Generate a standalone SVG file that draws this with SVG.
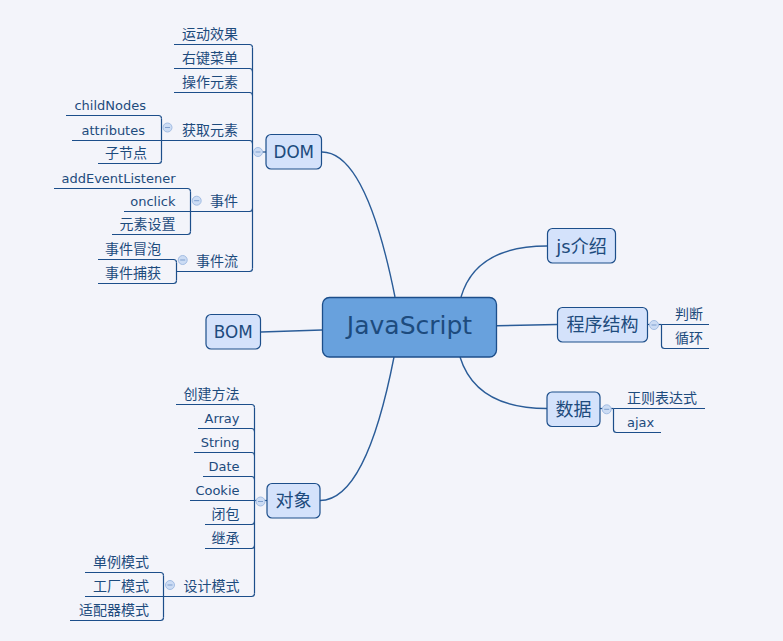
<svg xmlns="http://www.w3.org/2000/svg" width="783" height="641" viewBox="0 0 783 641">
<style>
.bg{fill:#f3f4fa}
.ln{fill:none;stroke:#1c4e8a;stroke-width:1.2}
.mc{fill:none;stroke:#2a5c98;stroke-width:1.4}
.box{fill:#d4e2fb;stroke:#1c4e8a;stroke-width:1.2}
.root{fill:#68a1dd;stroke:#1c4e8a;stroke-width:1.3}
text{font-family:"DejaVu Sans","Noto Sans CJK SC",sans-serif;fill:#1d4b7d}
.s{font-size:13px}
.c{font-size:14px}
.e{text-anchor:end}
.m{text-anchor:middle}
.n{font-size:16.8px}
.nc{font-size:18px}
.cb{fill:#ccdcf4;stroke:#a3bde3;stroke-width:1}
.cm{stroke:#7f9fce;stroke-width:1}
</style>
<defs>
<g id="col"><circle class="cb" r="4.5"/><line class="cm" x1="-2.5" y1="0" x2="2.5" y2="0"/></g>
</defs>
<rect class="bg" x="0" y="0" width="783" height="641"/>
<g id="connectors">
<path class="mc" d="M395,297 Q366,152 322,152"/>
<path class="mc" d="M394,357 Q366,500.5 320,500.5"/>
<path class="mc" d="M461,297 Q476,246 547,246"/>
<path class="mc" d="M460,357 Q476,408.5 547,408.5"/>
<path class="mc" d="M497,325.7 L557,324.5"/>
<path class="mc" d="M322,330 L261,332"/>
<path class="ln" d="M252.5,152 H266"/>
<path class="ln" d="M252.5,47.5 V268.5"/>
<path class="ln" d="M174,44.5 H249.5 Q252.5,44.5 252.5,47.5"/>
<path class="ln" d="M174,68.5 H249.5 Q252.5,68.5 252.5,71.5"/>
<path class="ln" d="M174,92.5 H249.5 Q252.5,92.5 252.5,95.5"/>
<path class="ln" d="M161.5,140.5 H249.5 Q252.5,140.5 252.5,143.5"/>
<path class="ln" d="M190.5,211.5 H249.5 Q252.5,211.5 252.5,208.5"/>
<path class="ln" d="M176.5,271.5 H249.5 Q252.5,271.5 252.5,268.5"/>
<path class="ln" d="M161.5,118.5 V160.5"/>
<path class="ln" d="M66,115.5 H158.5 Q161.5,115.5 161.5,118.5"/>
<path class="ln" d="M72,140.5 H161.5"/>
<path class="ln" d="M98,163.5 H158.5 Q161.5,163.5 161.5,160.5"/>
<path class="ln" d="M190.5,191.5 V231.5"/>
<path class="ln" d="M54,188.5 H187.5 Q190.5,188.5 190.5,191.5"/>
<path class="ln" d="M124,211.5 H190.5"/>
<path class="ln" d="M112,234.5 H187.5 Q190.5,234.5 190.5,231.5"/>
<path class="ln" d="M176.5,262.5 V280.5"/>
<path class="ln" d="M98,259.5 H173.5 Q176.5,259.5 176.5,262.5"/>
<path class="ln" d="M98,283.5 H173.5 Q176.5,283.5 176.5,280.5"/>
<path class="ln" d="M254.5,500.5 H267"/>
<path class="ln" d="M254.5,407.5 V593.5"/>
<path class="ln" d="M176,404.5 H251.5 Q254.5,404.5 254.5,407.5"/>
<path class="ln" d="M198,428.5 H251.5 Q254.5,428.5 254.5,431.5"/>
<path class="ln" d="M194,452.5 H251.5 Q254.5,452.5 254.5,455.5"/>
<path class="ln" d="M203,476.5 H251.5 Q254.5,476.5 254.5,479.5"/>
<path class="ln" d="M190,500.5 H254.5"/>
<path class="ln" d="M205,524.5 H251.5 Q254.5,524.5 254.5,521.5"/>
<path class="ln" d="M205,548.5 H251.5 Q254.5,548.5 254.5,545.5"/>
<path class="ln" d="M163.5,596.5 H251.5 Q254.5,596.5 254.5,593.5"/>
<path class="ln" d="M163.5,575.5 V617.5"/>
<path class="ln" d="M85,572.5 H160.5 Q163.5,572.5 163.5,575.5"/>
<path class="ln" d="M85,596.5 H163.5"/>
<path class="ln" d="M70,620.5 H160.5 Q163.5,620.5 163.5,617.5"/>
<path class="ln" d="M648,324.5 H661.5"/>
<path class="ln" d="M661.5,324.5 H709"/>
<path class="ln" d="M661.5,324.5 V345.5 Q661.5,348.5 664.5,348.5 H709"/>
<path class="ln" d="M600,408.5 H613.5"/>
<path class="ln" d="M613.5,408.5 H705"/>
<path class="ln" d="M613.5,408.5 V429.5 Q613.5,432.5 616.5,432.5 H661"/>
</g>
<g id="node-root">
<rect class="root" x="322.5" y="297.5" width="174" height="59.5" rx="7"/>
<text class="m" x="409.5" y="334" font-size="25">JavaScript</text>
</g>
<g id="node-dom">
<rect class="box" x="266" y="134.5" width="55.5" height="34.5" rx="5"/>
<text class="n m" x="293.8" y="158">DOM</text>
<use href="#col" x="258" y="152"/>
</g>
<g id="node-dom-1"><text class="c e" x="238" y="38.5">运动效果</text></g>
<g id="node-dom-2"><text class="c e" x="238" y="62.5">右键菜单</text></g>
<g id="node-dom-3"><text class="c e" x="238" y="86.5">操作元素</text></g>
<g id="node-dom-4"><text class="c e" x="238" y="134.5">获取元素</text><use href="#col" x="167.5" y="127.5"/></g>
<g id="node-dom-4-1"><text class="s e" x="146" y="109.5">childNodes</text></g>
<g id="node-dom-4-2"><text class="s e" x="145" y="134.5">attributes</text></g>
<g id="node-dom-4-3"><text class="c e" x="147" y="157.5">子节点</text></g>
<g id="node-dom-5"><text class="c e" x="238" y="205.5">事件</text><use href="#col" x="196.7" y="200.7"/></g>
<g id="node-dom-5-1"><text class="s e" x="175.5" y="182.5">addEventListener</text></g>
<g id="node-dom-5-2"><text class="s e" x="175.5" y="205.5">onclick</text></g>
<g id="node-dom-5-3"><text class="c e" x="175.5" y="228.5">元素设置</text></g>
<g id="node-dom-6"><text class="c e" x="238" y="265.5">事件流</text><use href="#col" x="182.7" y="260"/></g>
<g id="node-dom-6-1"><text class="c e" x="161" y="253.5">事件冒泡</text></g>
<g id="node-dom-6-2"><text class="c e" x="161" y="277.5">事件捕获</text></g>
<g id="node-bom">
<rect class="box" x="206" y="314.5" width="54.5" height="34.5" rx="5"/>
<text class="n m" x="233.3" y="338">BOM</text>
</g>
<g id="node-obj">
<rect class="box" x="267" y="483.5" width="53" height="34.5" rx="5"/>
<text class="nc m" x="293.5" y="507">对象</text>
<use href="#col" x="260.5" y="501.5"/>
</g>
<g id="node-obj-1"><text class="c e" x="239.5" y="398.5">创建方法</text></g>
<g id="node-obj-2"><text class="s e" x="239.5" y="422.5">Array</text></g>
<g id="node-obj-3"><text class="s e" x="239.5" y="446.5">String</text></g>
<g id="node-obj-4"><text class="s e" x="239.5" y="470.5">Date</text></g>
<g id="node-obj-5"><text class="s e" x="239.5" y="494.5">Cookie</text></g>
<g id="node-obj-6"><text class="c e" x="239.5" y="518.5">闭包</text></g>
<g id="node-obj-7"><text class="c e" x="239.5" y="542.5">继承</text></g>
<g id="node-obj-8"><text class="c e" x="239.5" y="590.5">设计模式</text><use href="#col" x="170" y="585"/></g>
<g id="node-obj-8-1"><text class="c e" x="149" y="566.5">单例模式</text></g>
<g id="node-obj-8-2"><text class="c e" x="149" y="590.5">工厂模式</text></g>
<g id="node-obj-8-3"><text class="c e" x="149" y="614.5">适配器模式</text></g>
<g id="node-js">
<rect class="box" x="547.5" y="228.5" width="68" height="34.5" rx="5"/>
<text class="nc m" x="581.5" y="252.5">js介绍</text>
</g>
<g id="node-struct">
<rect class="box" x="557.5" y="307.5" width="90" height="34.5" rx="5"/>
<text class="nc m" x="602.5" y="331">程序结构</text>
<use href="#col" x="654" y="325"/>
</g>
<g id="node-struct-1"><text class="c" x="675" y="318.5">判断</text></g>
<g id="node-struct-2"><text class="c" x="675" y="342.5">循环</text></g>
<g id="node-data">
<rect class="box" x="547" y="392" width="53" height="34.5" rx="5"/>
<text class="nc m" x="573.5" y="416">数据</text>
<use href="#col" x="606.7" y="409.3"/>
</g>
<g id="node-data-1"><text class="c" x="627" y="402.5">正则表达式</text></g>
<g id="node-data-2"><text class="s" x="627" y="426.5">ajax</text></g>
</svg>
